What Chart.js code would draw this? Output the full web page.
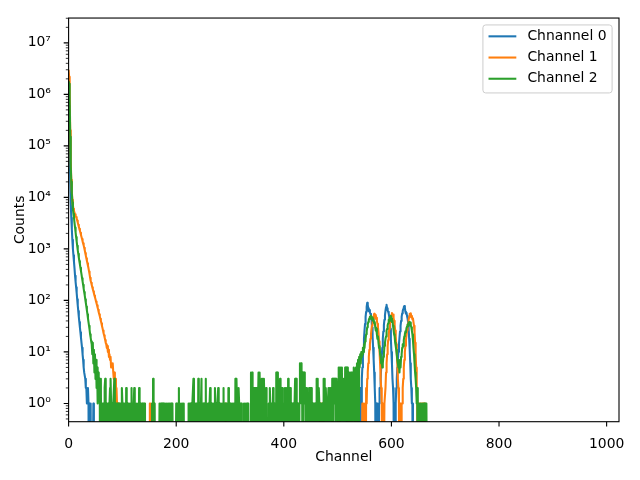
<!DOCTYPE html>
<html>
<head>
<meta charset="utf-8">
<script src="https://cdn.jsdelivr.net/npm/chart.js@4.4.1/dist/chart.umd.min.js"></script>
<style>
  html, body { margin: 0; padding: 0; background: #fff; }
  #wrap { width: 640px; height: 480px; }
</style>
</head>
<body>
<div id="wrap"><canvas id="chart" width="640" height="480"></canvas></div>
<script>
// ── Series names / colours (matplotlib tab10) ──
const seriesLabels = ['Chnannel 0', 'Channel 1', 'Channel 2'];
const seriesColors = ['#1f77b4', '#ff7f0e', '#2ca02c'];

// ── Axis ticks ──
const xTickValues = [0, 200, 400, 600, 800, 1000];
const xTickLabels = ['0', '200', '400', '600', '800', '1000'];
const yTickValues = [1, 10, 100, 1000, 1e4, 1e5, 1e6, 1e7];
const yTickLabels = ['10⁰', '10¹', '10²', '10³', '10⁴', '10⁵', '10⁶', '10⁷'];

// ── Counts per channel, channels 0..679 (20 per row; 0 = empty bin) ──
const counts0 = [
  900000, 600000, 120000, 22000, 8000, 4000, 2400, 1500, 1000, 750, 560, 420, 300, 230, 180, 140, 105, 80, 62, 48,
  38, 30, 24, 19, 15, 12, 9, 7, 5, 4, 4, 3, 2, 2, 1, 1, 2, 1, 0, 1,
  0, 1, 0, 0, 0, 0, 1, 0, 0, 0, 0, 0, 0, 0, 0, 0, 0, 0, 0, 0,
  0, 0, 0, 0, 0, 0, 0, 0, 0, 0, 0, 0, 0, 0, 0, 0, 0, 0, 0, 0,
  0, 0, 0, 0, 0, 0, 0, 0, 0, 0, 0, 0, 0, 0, 0, 0, 0, 0, 0, 0,
  0, 0, 0, 0, 0, 0, 0, 0, 0, 0, 0, 0, 0, 0, 0, 0, 0, 0, 0, 0,
  0, 0, 0, 0, 0, 0, 0, 0, 0, 0, 0, 0, 0, 0, 0, 0, 0, 0, 0, 0,
  0, 0, 0, 0, 0, 0, 0, 0, 0, 0, 0, 0, 0, 0, 0, 0, 0, 0, 0, 0,
  0, 0, 0, 0, 0, 0, 0, 0, 0, 0, 0, 0, 0, 0, 0, 0, 0, 0, 0, 0,
  0, 0, 0, 0, 0, 0, 0, 0, 0, 0, 0, 0, 0, 0, 0, 0, 0, 0, 0, 0,
  0, 0, 0, 0, 0, 0, 0, 0, 0, 0, 0, 0, 0, 0, 0, 0, 0, 0, 0, 0,
  0, 0, 0, 0, 0, 0, 0, 0, 0, 0, 0, 0, 0, 0, 0, 0, 0, 0, 0, 0,
  0, 0, 0, 0, 0, 0, 0, 0, 0, 0, 0, 0, 0, 0, 0, 0, 0, 0, 0, 0,
  0, 0, 0, 0, 0, 0, 0, 0, 0, 0, 0, 0, 0, 0, 0, 0, 0, 0, 0, 0,
  0, 0, 0, 0, 0, 0, 0, 0, 0, 0, 0, 0, 0, 0, 0, 0, 0, 0, 0, 0,
  0, 0, 0, 0, 0, 0, 0, 0, 0, 0, 0, 0, 0, 0, 0, 0, 0, 0, 0, 0,
  0, 0, 0, 0, 0, 0, 0, 0, 0, 0, 0, 0, 0, 0, 0, 0, 0, 0, 0, 0,
  0, 0, 0, 0, 0, 0, 0, 0, 0, 0, 0, 0, 0, 0, 0, 0, 0, 0, 0, 0,
  0, 0, 0, 0, 0, 0, 0, 0, 0, 0, 0, 0, 0, 0, 0, 0, 0, 0, 0, 0,
  0, 0, 0, 0, 0, 0, 0, 0, 0, 0, 0, 0, 0, 0, 0, 0, 0, 0, 0, 0,
  0, 0, 0, 0, 0, 0, 0, 0, 0, 0, 0, 0, 0, 0, 0, 0, 0, 0, 0, 0,
  0, 0, 0, 0, 0, 0, 0, 0, 0, 0, 0, 0, 0, 0, 0, 0, 0, 0, 0, 0,
  0, 0, 0, 0, 0, 0, 0, 0, 0, 0, 0, 0, 0, 0, 0, 0, 0, 0, 0, 0,
  0, 0, 0, 0, 0, 0, 0, 0, 0, 0, 0, 0, 0, 0, 0, 0, 0, 0, 0, 0,
  0, 0, 0, 0, 0, 0, 0, 0, 0, 0, 0, 0, 0, 0, 0, 0, 0, 0, 0, 0,
  0, 0, 0, 0, 0, 0, 0, 0, 0, 0, 0, 0, 0, 0, 0, 0, 0, 1, 0, 0,
  0, 0, 0, 0, 0, 0, 0, 0, 0, 0, 0, 0, 0, 0, 0, 0, 0, 0, 1, 0,
  0, 1, 0, 2, 1, 3, 5, 8, 12, 18, 26, 35, 48, 60, 75, 90, 82, 70, 62, 65,
  58, 55, 50, 42, 30, 20, 12, 7, 4, 2, 1, 0, 1, 0, 1, 1, 0, 1, 2, 2,
  3, 5, 8, 12, 18, 25, 33, 42, 52, 63, 74, 82, 70, 64, 60, 55, 48, 40, 28, 18,
  10, 6, 3, 2, 1, 0, 1, 0, 1, 2, 3, 5, 7, 10, 14, 19, 25, 32, 40, 48,
  56, 62, 68, 74, 78, 72, 60, 55, 58, 50, 45, 38, 28, 18, 11, 6, 3, 2, 1, 1,
  0, 0, 0, 0, 0, 0, 0, 0, 0, 0, 0, 0, 0, 0, 0, 0, 0, 0, 0, 0,
  0, 0, 0, 0, 0, 0, 0, 0, 0, 0, 0, 0, 0, 0, 0, 0, 0, 0, 0, 0,
];

const counts1 = [
  3000000, 2200000, 1000000, 200000, 50000, 22000, 13000, 9000, 7000, 6000, 5500, 5000, 4700, 4400, 4150, 3900, 3550, 3250, 2950, 2700,
  2450, 2250, 2050, 1870, 1700, 1550, 1400, 1280, 1170, 1050, 940, 830, 740, 660, 590, 525, 470, 420, 365, 320,
  275, 240, 220, 200, 180, 165, 150, 138, 125, 115, 105, 95, 87, 80, 72, 66, 59, 54, 49, 44,
  40, 36, 32, 29, 26, 23, 21, 19, 17, 15, 14, 12, 13, 10, 11, 8, 9, 7, 8, 5,
  6, 5, 6, 4, 3, 4, 2, 3, 1, 2, 1, 0, 1, 0, 0, 0, 0, 0, 0, 0,
  0, 0, 0, 0, 0, 0, 0, 0, 0, 0, 0, 0, 0, 0, 0, 0, 0, 0, 0, 0,
  0, 0, 0, 0, 0, 0, 0, 0, 0, 0, 0, 0, 0, 0, 0, 0, 0, 0, 0, 0,
  0, 0, 0, 0, 0, 0, 0, 0, 0, 0, 0, 1, 0, 1, 0, 0, 0, 0, 0, 0,
  0, 0, 0, 0, 0, 0, 0, 0, 0, 0, 0, 0, 0, 0, 0, 0, 0, 0, 0, 0,
  0, 0, 0, 0, 0, 0, 0, 0, 0, 0, 0, 0, 0, 0, 0, 0, 0, 0, 0, 0,
  0, 0, 0, 0, 0, 0, 0, 0, 0, 0, 0, 0, 0, 0, 0, 0, 0, 0, 0, 0,
  0, 0, 0, 0, 0, 0, 0, 0, 0, 0, 0, 0, 0, 0, 0, 0, 0, 0, 0, 0,
  0, 0, 0, 0, 0, 0, 0, 0, 0, 0, 0, 0, 0, 0, 0, 0, 0, 0, 0, 0,
  0, 0, 0, 0, 0, 0, 0, 0, 0, 0, 0, 0, 0, 0, 0, 0, 0, 0, 0, 0,
  0, 0, 0, 0, 0, 0, 0, 0, 0, 0, 0, 0, 1, 0, 0, 0, 0, 0, 0, 0,
  0, 0, 0, 0, 0, 0, 0, 0, 0, 0, 0, 0, 0, 0, 0, 0, 0, 0, 0, 0,
  0, 0, 0, 0, 0, 0, 0, 0, 0, 0, 0, 0, 0, 0, 0, 0, 0, 0, 0, 0,
  0, 0, 0, 0, 0, 0, 0, 0, 0, 0, 0, 0, 0, 0, 0, 0, 0, 0, 0, 0,
  0, 0, 0, 0, 0, 0, 0, 0, 0, 0, 0, 0, 0, 0, 0, 0, 0, 0, 0, 0,
  0, 0, 0, 0, 0, 0, 0, 0, 0, 0, 0, 0, 0, 0, 0, 0, 0, 0, 0, 0,
  0, 0, 0, 0, 0, 0, 0, 0, 0, 0, 0, 0, 0, 0, 0, 0, 0, 0, 0, 0,
  0, 0, 0, 0, 0, 0, 0, 0, 0, 0, 0, 0, 0, 0, 0, 0, 0, 0, 0, 0,
  0, 0, 0, 0, 0, 0, 0, 0, 0, 0, 0, 0, 0, 0, 0, 0, 0, 0, 0, 0,
  0, 0, 0, 0, 0, 0, 0, 1, 0, 1, 1, 0, 1, 1, 0, 0, 0, 0, 0, 0,
  0, 0, 0, 0, 0, 0, 0, 0, 0, 1, 0, 1, 0, 0, 0, 0, 0, 0, 0, 0,
  0, 1, 0, 1, 0, 0, 0, 0, 0, 0, 0, 0, 0, 0, 0, 0, 0, 0, 0, 0,
  1, 0, 1, 0, 0, 0, 1, 0, 0, 0, 0, 0, 1, 0, 1, 0, 0, 0, 0, 0,
  0, 0, 0, 0, 0, 0, 1, 0, 0, 1, 0, 1, 0, 2, 1, 3, 4, 6, 8, 11,
  14, 18, 22, 28, 33, 38, 45, 50, 55, 48, 52, 44, 46, 40, 35, 30, 24, 16, 10, 6,
  3, 2, 1, 0, 1, 0, 0, 1, 1, 2, 4, 6, 9, 13, 17, 22, 28, 34, 40, 47,
  52, 57, 50, 53, 45, 40, 33, 26, 20, 14, 9, 6, 3, 2, 1, 0, 1, 0, 0, 1,
  1, 2, 3, 5, 7, 10, 13, 17, 21, 26, 31, 36, 42, 48, 55, 50, 56, 47, 50, 43,
  45, 38, 32, 24, 15, 9, 5, 2, 1, 0, 1, 1, 0, 1, 1, 0, 1, 0, 1, 1,
  0, 1, 0, 0, 0, 0, 0, 0, 0, 0, 0, 0, 0, 0, 0, 0, 0, 0, 0, 0,
];

const counts2 = [
  1800000, 1600000, 800000, 150000, 40000, 20000, 12000, 8000, 6000, 4800, 4000, 3200, 2600, 2100, 1700, 1400, 1150, 950, 800, 680,
  580, 500, 430, 370, 320, 270, 235, 200, 170, 145, 125, 105, 90, 76, 64, 54, 45, 38, 32, 27,
  22, 19, 16, 14, 9, 15, 6, 11, 4, 9, 3, 7, 2, 5, 1, 4, 2, 3, 1, 0,
  3, 0, 1, 1, 0, 1, 0, 2, 3, 1, 0, 1, 0, 1, 1, 0, 1, 2, 3, 1,
  0, 1, 0, 1, 1, 3, 0, 1, 0, 1, 1, 0, 1, 0, 1, 0, 1, 1, 0, 2,
  1, 0, 1, 0, 1, 1, 0, 2, 0, 1, 0, 1, 1, 0, 1, 0, 1, 2, 0, 1,
  0, 1, 2, 0, 1, 1, 0, 1, 0, 1, 0, 2, 1, 0, 1, 0, 1, 1, 0, 1,
  1, 1, 0, 0, 0, 0, 0, 0, 0, 0, 0, 0, 0, 0, 0, 1, 0, 3, 1, 0,
  1, 0, 0, 0, 0, 0, 0, 0, 0, 1, 0, 1, 1, 0, 1, 0, 1, 0, 1, 1,
  0, 1, 0, 1, 1, 0, 1, 0, 1, 0, 1, 1, 0, 1, 1, 0, 0, 0, 0, 0,
  1, 0, 1, 1, 0, 2, 0, 1, 0, 1, 1, 0, 1, 0, 1, 0, 0, 0, 0, 0,
  0, 0, 0, 1, 0, 1, 1, 0, 1, 0, 1, 1, 3, 0, 1, 0, 1, 1, 0, 1,
  0, 3, 1, 0, 1, 0, 1, 3, 0, 1, 1, 0, 1, 0, 1, 3, 0, 1, 0, 1,
  1, 0, 1, 2, 0, 1, 0, 1, 1, 0, 1, 0, 2, 1, 0, 1, 0, 1, 2, 0,
  1, 0, 1, 1, 0, 1, 0, 1, 2, 0, 1, 1, 0, 1, 0, 1, 0, 2, 1, 0,
  1, 0, 1, 1, 0, 1, 0, 1, 1, 0, 3, 0, 3, 1, 2, 0, 2, 1, 0, 1,
  1, 1, 0, 0, 0, 0, 1, 0, 1, 1, 0, 1, 1, 0, 1, 1, 0, 0, 0, 4,
  1, 4, 0, 2, 1, 2, 0, 2, 1, 2, 0, 2, 1, 4, 0, 4, 1, 2, 0, 3,
  1, 3, 0, 3, 1, 2, 0, 2, 1, 0, 0, 0, 1, 0, 2, 1, 0, 1, 1, 0,
  2, 1, 0, 1, 1, 0, 4, 1, 4, 0, 2, 1, 2, 3, 0, 2, 1, 2, 0, 0,
  0, 1, 2, 0, 2, 1, 2, 0, 3, 1, 2, 0, 2, 1, 0, 1, 1, 0, 1, 0,
  1, 3, 0, 3, 1, 0, 1, 1, 0, 1, 6, 2, 6, 1, 4, 0, 4, 2, 4, 1,
  2, 0, 2, 1, 0, 0, 0, 2, 1, 2, 0, 2, 1, 0, 1, 1, 0, 1, 1, 0,
  0, 3, 1, 3, 0, 2, 1, 0, 1, 0, 0, 1, 0, 0, 3, 1, 3, 0, 2, 1,
  1, 0, 1, 2, 1, 2, 0, 2, 1, 0, 3, 0, 3, 1, 3, 1, 3, 0, 3, 1,
  2, 0, 5, 0, 5, 0, 5, 3, 5, 0, 3, 1, 3, 0, 5, 3, 5, 0, 5, 3,
  0, 4, 0, 4, 0, 4, 0, 3, 4, 0, 5, 3, 0, 2, 5, 0, 6, 3, 7, 0,
  8, 5, 9, 6, 10, 8, 9, 12, 10, 14, 12, 16, 18, 22, 25, 30, 34, 38, 42, 45,
  48, 44, 50, 46, 42, 47, 40, 43, 36, 38, 30, 26, 28, 22, 18, 20, 15, 12, 13, 9,
  8, 6, 7, 5, 6, 8, 9, 13, 15, 18, 20, 26, 28, 33, 36, 42, 40, 47, 44, 50,
  45, 38, 40, 32, 27, 22, 20, 15, 13, 11, 9, 7, 6, 5, 6, 4, 7, 5, 8, 9,
  12, 14, 13, 17, 20, 22, 25, 24, 29, 31, 34, 32, 36, 38, 35, 37, 33, 30, 26, 22,
  17, 12, 9, 6, 4, 3, 2, 1, 2, 0, 1, 1, 0, 1, 0, 1, 1, 0, 1, 0,
  1, 1, 0, 1, 0, 1, 1, 0, 0, 0, 0, 0, 0, 0, 0, 0, 0, 0, 0, 0,
];

const allCounts = [counts0, counts1, counts2];

// empty bins sit below the log axis, like matplotlib's clipped zeros
const ZERO_FLOOR = 1e-3;
const FONT = "'DejaVu Sans', sans-serif";
const FS = 13.9;
const LINE_W = 2.08;   // 1.5 pt at 100 dpi

Chart.defaults.font.family = FONT;
Chart.defaults.font.size = FS;
Chart.defaults.color = '#000';

// ── Frame, ticks (major + log minor) and in-axes legend, matplotlib style ──
const mplDecor = {
  id: 'mplDecor',
  afterDatasetsDraw(chart) {
    const { ctx, chartArea: a, scales: { x, y } } = chart;
    ctx.save();
    ctx.strokeStyle = '#000';

    ctx.lineWidth = 1.1;
    ctx.beginPath();
    xTickValues.forEach(v => {
      const px = x.getPixelForValue(v);
      ctx.moveTo(px, a.bottom); ctx.lineTo(px, a.bottom + 4.9);
    });
    yTickValues.forEach(v => {
      const py = y.getPixelForValue(v);
      ctx.moveTo(a.left, py); ctx.lineTo(a.left - 4.9, py);
    });
    ctx.stroke();

    ctx.lineWidth = 0.8;
    ctx.beginPath();
    for (let e = -1; e <= 7; e++) {
      for (let k = 2; k <= 9; k++) {
        const v = k * Math.pow(10, e);
        if (v < y.min || v > y.max) continue;
        const py = y.getPixelForValue(v);
        ctx.moveTo(a.left, py); ctx.lineTo(a.left - 2.8, py);
      }
    }
    ctx.stroke();

    ctx.lineWidth = 1.1;
    ctx.strokeRect(a.left, a.top, a.right - a.left, a.bottom - a.top);

    // legend (upper right)
    ctx.font = `${FS}px ${FONT}`;
    const sets = chart.data.datasets;
    const textW = Math.max(...sets.map(d => ctx.measureText(d.label).width));
    const w = 5.6 + 27.8 + 11.1 + textW + 5.6;
    const h = 68;
    const bx = a.right - 6.9 - w;
    const by = a.top + 6.9;
    ctx.beginPath();
    if (ctx.roundRect) ctx.roundRect(bx, by, w, h, 2.8); else ctx.rect(bx, by, w, h);
    ctx.fillStyle = 'rgba(255,255,255,0.8)';
    ctx.fill();
    ctx.strokeStyle = '#cccccc';
    ctx.lineWidth = 1;
    ctx.stroke();
    ctx.textBaseline = 'middle';
    ctx.textAlign = 'left';
    sets.forEach((d, i) => {
      const cy = by + 11.4 + i * 21.2;
      ctx.strokeStyle = d.borderColor;
      ctx.lineWidth = LINE_W;
      ctx.beginPath();
      ctx.moveTo(bx + 5.6, cy); ctx.lineTo(bx + 33.4, cy);
      ctx.stroke();
      ctx.fillStyle = '#000';
      ctx.fillText(d.label, bx + 44.5, cy);
    });
    ctx.restore();
  }
};

new Chart(document.getElementById('chart').getContext('2d'), {
  type: 'line',
  data: {
    datasets: allCounts.map((arr, i) => ({
      label: seriesLabels[i],
      data: arr.map((v, ch) => ({ x: ch, y: v > 0 ? v : ZERO_FLOOR })),
      borderColor: seriesColors[i],
      backgroundColor: seriesColors[i],
      borderWidth: LINE_W,
      borderJoinStyle: 'round',
      pointRadius: 0,
      fill: false,
      tension: 0,
      clip: 0,
      order: allCounts.length - 1 - i,   // later series drawn on top
    })),
  },
  options: {
    responsive: false,
    animation: false,
    events: [],
    layout: { padding: { top: 15, right: 21, left: 0, bottom: 0 } },
    plugins: { legend: { display: false }, tooltip: { enabled: false } },
    scales: {
      x: {
        type: 'linear',
        min: 0,
        max: 1023,
        afterBuildTicks: s => { s.ticks = xTickValues.map(v => ({ value: v })); },
        afterFit: s => { s.height = 58.3; },
        grid: { display: false },
        border: { display: false },
        ticks: { padding: 6.4, autoSkip: false, maxRotation: 0, callback: (v, i) => xTickLabels[i] },
        title: { display: true, text: 'Channel', padding: { top: 0, bottom: 14.6 } },
      },
      y: {
        type: 'logarithmic',
        min: 0.442,
        max: 3.03e7,
        afterBuildTicks: s => { s.ticks = yTickValues.map(v => ({ value: v })); },
        afterFit: s => { s.width = 68.6; },
        grid: { display: false },
        border: { display: false },
        ticks: { padding: 9.7, autoSkip: false, callback: (v, i) => yTickLabels[i] },
        title: { display: true, text: 'Counts', padding: { top: 12, bottom: 0 } },
      },
    },
  },
  plugins: [mplDecor],
});
</script>
</body>
</html>
